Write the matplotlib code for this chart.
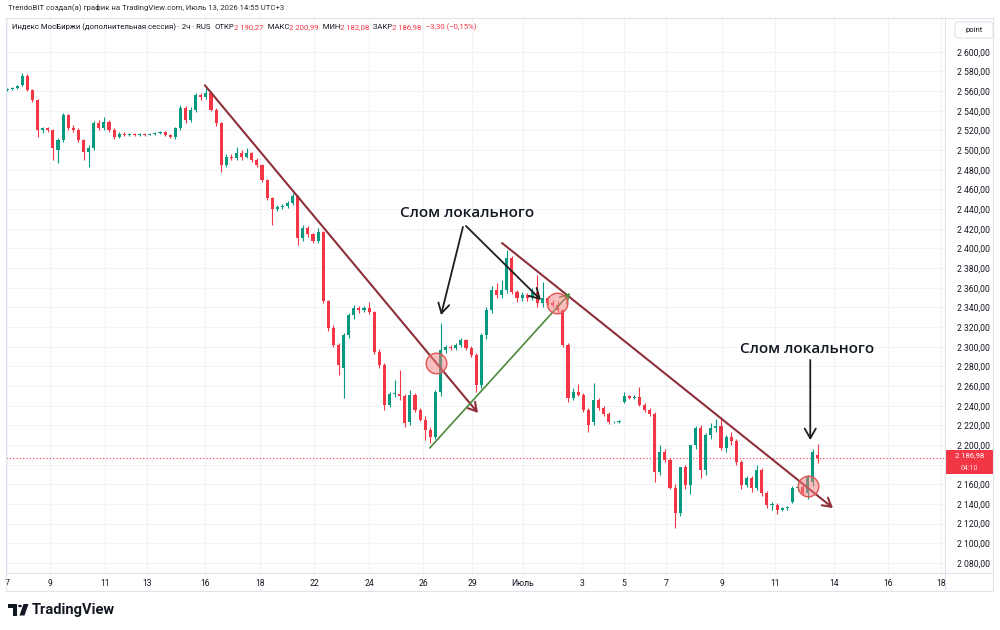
import matplotlib
matplotlib.use("Agg")
import matplotlib.pyplot as plt
from matplotlib.patches import Rectangle, FancyBboxPatch, Polygon, Circle
from matplotlib.lines import Line2D
from matplotlib.text import Annotation
import numpy as np

# ---------------- data (2h candles) ----------------
opens = [2561,2562,2563,2566,2575,2561,2551,2520,2522,2520,
         2500,2510,2536,2522,2520,2510,2498,2502,2528,2522,
         2529,2520,2513,2516,2515,2516,2515,2516,2515,2516,
         2517,2518,2515,2513,2522,2543,2531,2541,2556,2554,
         2558,2541,2528,2485,2493,2492,2497,2493,2497,2490,
         2485,2470,2451,2440,2442,2443,2446,2453,2411,2421,
         2415,2408,2417,2347,2319,2302,2278,2312,2332,2339,
         2337,2339,2335,2295,2281,2241,2252,2252,2250,2223,
         2251,2236,2225,2215,2208,2254,2297,2300,2299,2302,
         2307,2299,2292,2261,2312,2337,2358,2353,2358,2390,
         2356,2350,2353,2350,2356,2344,2350,2344,2342,2337,
         2302,2248,2254,2251,2236,2223,2246,2238,2232,2223,
         2223,2244,2250,2248,2249,2241,2236,2232,2173,2193,
         2185,2156,2131,2178,2159,2200,2217,2175,2210,2217,
         2219,2197,2208,2204,2183,2159,2166,2156,2175,2151,
         2139,2139,2134,2136,2142,2156,2157,2151,2162,2190.27]
highs = [2563,2564,2566,2578,2577,2562,2552,2524,2524,2521,
         2512,2538,2537,2526,2522,2511,2505,2530,2531,2534,
         2531,2522,2518,2518,2517,2517,2517,2517,2517,2518,
         2519,2519,2516,2524,2546,2545,2544,2558,2558,2563,
         2560,2543,2529,2496,2496,2503,2500,2502,2498,2492,
         2486,2471,2452,2444,2445,2448,2456,2454,2424,2423,
         2416,2421,2418,2348,2322,2304,2314,2334,2342,2341,
         2341,2345,2336,2298,2283,2254,2266,2276,2252,2256,
         2253,2238,2230,2218,2256,2324,2302,2302,2304,2309,
         2308,2301,2294,2314,2340,2362,2365,2368,2398,2392,
         2358,2356,2355,2360,2373,2366,2352,2348,2346,2338,
         2304,2258,2262,2253,2238,2263,2248,2240,2234,2224,
         2225,2254,2251,2251,2259,2243,2238,2234,2200,2196,
         2187,2160,2178,2180,2200,2219,2220,2212,2222,2226,
         2228,2210,2213,2206,2185,2168,2168,2180,2177,2153,
         2142,2141,2137,2138,2158,2159,2159,2170,2196,2200.99]
lows = [2560,2561,2562,2565,2560,2549,2513,2517,2518,2490,
        2487,2508,2520,2518,2508,2490,2483,2500,2520,2520,
        2518,2511,2512,2514,2514,2514,2514,2514,2515,2515,
        2516,2514,2512,2511,2520,2528,2529,2539,2551,2552,
        2540,2525,2478,2483,2490,2490,2490,2492,2488,2483,
        2468,2449,2424,2438,2440,2441,2444,2403,2408,2412,
        2405,2406,2344,2316,2300,2271,2248,2309,2328,2334,
        2335,2333,2293,2278,2236,2239,2249,2246,2218,2220,
        2234,2224,2205,2202,2206,2250,2294,2297,2297,2300,
        2297,2290,2254,2258,2308,2334,2350,2350,2355,2354,
        2345,2347,2346,2348,2340,2340,2342,2340,2335,2300,
        2244,2246,2250,2234,2213,2220,2236,2230,2221,2222,
        2222,2243,2247,2247,2240,2234,2230,2162,2170,2183,
        2155,2116,2128,2155,2150,2196,2166,2170,2206,2213,
        2195,2193,2200,2180,2155,2157,2152,2154,2148,2136,
        2134,2130,2133,2134,2141,2153,2149,2145,2158,2182.08]
closes = [2562,2563,2565,2575,2561,2551,2520,2522,2520,2502,
          2510,2536,2522,2520,2510,2498,2502,2528,2522,2529,
          2520,2513,2516,2515,2516,2515,2516,2515,2516,2517,
          2518,2515,2513,2522,2543,2531,2541,2556,2554,2558,
          2541,2528,2485,2493,2492,2497,2493,2497,2490,2485,
          2470,2451,2440,2442,2443,2446,2453,2411,2421,2415,
          2408,2417,2347,2319,2302,2281,2312,2332,2339,2337,
          2339,2335,2295,2281,2241,2252,2252,2250,2222,2251,
          2236,2225,2215,2208,2254,2297,2300,2299,2302,2307,
          2299,2292,2261,2312,2337,2358,2353,2358,2390,2356,
          2350,2353,2350,2356,2344,2350,2344,2342,2337,2302,
          2248,2254,2251,2236,2220,2246,2238,2232,2223,2223,
          2224,2250,2248,2249,2241,2236,2232,2173,2193,2185,
          2156,2131,2178,2159,2200,2217,2175,2210,2217,2219,
          2197,2208,2204,2183,2159,2166,2156,2175,2151,2139,
          2139,2134,2136,2136,2156,2157,2151,2168,2193,2186.98]

xtick_labels = ["7", "9", "11", "13", "16", "18", "22", "24", "26", "29",
                "Июль", "3", "5", "7", "9", "11", "14", "16", "18"]
xtick_pos = [0, 8.4, 19.2, 27.5, 38.8, 49.6, 60.2, 71.0, 81.6, 91.2,
             101.2, 112.7, 121.0, 129.2, 140.2, 150.6, 162.2, 172.7, 183.1]
price_ticks = list(range(2080, 2601, 20))

change_abs = -3.30
change_pct = -0.15
countdown = "04:10"
title_line = "TrendoBIT создал(а) график на TradingView.com, Июль 13, 2026 14:55 UTC+3"
symbol_line = "Индекс МосБиржи (дополнительная сессия) · 2ч · RUS"
annot_text = "Слом локального"

# annotation drawings (in chart coordinates: candle index, price)
trend_red_1 = [(38.8, 2566.0), (92.35, 2232.6)]
trend_red_2 = [(97.06, 2405.5), (161.96, 2135.9)]
trend_green = [(82.9, 2197.0), (110.4, 2354.6)]
black_arrows = [[(89.4, 2421.8), (85.1, 2332.2)],
                [(90.0, 2422.8), (104.7, 2347.5)],
                [(157.5, 2286.5), (157.5, 2205.0)]]
label_points = [(90.2, 2436.0), (156.9, 2297.7)]
circle_points = [(84.1, 2283.4), (107.8, 2344.5), (157.1, 2158.3)]

# ---------------- styling ----------------
UP = "#089981"
DOWN = "#f23645"
TXT = "#131722"
GRID = "#f0f3fa"
BORDER = "#e0e3eb"
W, H = 1000, 630

def fx(x):
    return x / W

def fy(y):
    return 1 - y / H

def fmt(v):
    return f"{v:,.2f}".replace(",", " ").replace(".", ",")

plt.rcParams['font.family'] = ['Roboto', 'DejaVu Sans']

fig = plt.figure(figsize=(10, 6.3), dpi=100)
fig.patch.set_facecolor("white")

ax = fig.add_axes([fx(6), fy(573), fx(945) - fx(6), fy(18) - fy(573)])
ax.set_facecolor("white")
ax.set_xlim(-0.196, 183.92)
ax.set_ylim(2069.8, 2634.4)

o = np.array(opens, float)
h = np.array(highs, float)
l = np.array(lows, float)
c = np.array(closes, float)
idx = np.arange(len(c))
cols = np.where(c >= o, UP, DOWN)

ax.vlines(idx, l, h, colors=cols, lw=0.8, zorder=2)
body_b = np.minimum(o, c)
body_h = np.maximum(np.abs(c - o), 0.9)
ax.bar(idx, body_h, bottom=body_b, width=0.6, color=cols, linewidth=0, zorder=3)

# grid & axes (tick label hidden where the last-price badge covers it)
ax.set_yticks(price_ticks)
ax.set_yticklabels(["" if abs(v - c[-1]) < 12 else fmt(v) for v in price_ticks])
ax.yaxis.tick_right()
ax.tick_params(axis="y", length=0, pad=8.5, labelsize=6.2, labelcolor=TXT)
ax.set_xticks(xtick_pos)
ax.set_xticklabels(xtick_labels)
ax.tick_params(axis="x", length=0, pad=4.5, labelsize=6.2, labelcolor=TXT)
ax.grid(True, color=GRID, lw=0.8)
ax.set_axisbelow(True)
for s in ax.spines.values():
    s.set_visible(False)

# last price dotted line
ax.axhline(c[-1], color=DOWN, lw=0.8, ls=(0, (1, 2)), zorder=1)

# trend lines with open arrowheads
def arrow(p0, p1, color, lw, hl=0.6, hw=0.35):
    ax.annotate("", xy=p1, xytext=p0, zorder=6,
                arrowprops=dict(arrowstyle=f"->,head_length={hl},head_width={hw}",
                                color=color, lw=lw, shrinkA=0, shrinkB=0))

arrow(trend_red_1[0], trend_red_1[1], "#8e2f3a", 1.5)
arrow(trend_red_2[0], trend_red_2[1], "#8e2f3a", 1.5)
arrow(trend_green[0], trend_green[1], "#4a8a3a", 1.2)
for a in black_arrows:
    arrow(a[0], a[1], "#1e1e1e", 1.3, hl=0.7, hw=0.4)

for (xx, yy) in label_points:
    ax.text(xx, yy, annot_text, ha="center", va="center", fontsize=11,
            fontweight="semibold", family=["Open Sans", "DejaVu Sans"],
            color=TXT, zorder=7)

cx = [p[0] for p in circle_points]
cy = [p[1] for p in circle_points]
ax.scatter(cx, cy, s=220, facecolor=(0.96, 0.5, 0.5, 0.5),
           edgecolor="#e05555", linewidth=1.0, zorder=8)

# ---------------- frame / chrome ----------------
def fline(x0, y0, x1, y1, color=BORDER, lw=0.8):
    fig.add_artist(Line2D([fx(x0), fx(x1)], [fy(y0), fy(y1)],
                          transform=fig.transFigure, color=color, lw=lw))

fline(6, 18, 993, 18)
fline(6, 591, 993, 591)
fline(6, 18, 6, 591)
fline(993, 18, 993, 591)
fline(6, 573, 993, 573)
fline(945, 18, 945, 591)

# header texts
fig.text(fx(8), fy(7.5), title_line, fontsize=5.6, color="#2a2e39",
         va="center", ha="left")

hdr_pieces = [(symbol_line + "  ", TXT), ("ОТКР", TXT), (fmt(opens[-1]), DOWN),
              ("  МАКС", TXT), (fmt(highs[-1]), DOWN),
              ("  МИН", TXT), (fmt(lows[-1]), DOWN),
              ("  ЗАКР", TXT), (fmt(closes[-1]), DOWN),
              (f"  {fmt(change_abs).replace('-', '−')} ({fmt(change_pct).replace('-', '−')}%)", DOWN)]
last = None
for txt, col in hdr_pieces:
    if last is None:
        last = fig.text(fx(12), fy(27), txt, fontsize=5.6, color=col,
                        va="center", ha="left")
    else:
        last = fig.add_artist(Annotation(txt, xy=(1, 0.5), xycoords=last,
                                         va="center", ha="left",
                                         fontsize=5.6, color=col))

# "point" box
fig.add_artist(FancyBboxPatch((fx(955), fy(38)), fx(38), 16 / H,
                              boxstyle="round,pad=0,rounding_size=0.004",
                              transform=fig.transFigure, facecolor="white",
                              edgecolor=BORDER, lw=0.8))
fig.text(fx(974), fy(30), "point", fontsize=5.5, color=TXT, ha="center", va="center")

# last price label
fig.add_artist(Rectangle((fx(946), fy(474)), fx(47), 24 / H,
                         transform=fig.transFigure, facecolor=DOWN,
                         edgecolor="none"))
fig.text(fx(969.5), fy(455.5), fmt(closes[-1]), fontsize=5.6, color="white",
         ha="center", va="center")
fig.text(fx(969.5), fy(468), countdown, fontsize=5.0, color="#ffe0e3",
         ha="center", va="center")

# TradingView logo
def fpoly(pts, color=TXT):
    fig.add_artist(Polygon([(fx(x), fy(y)) for x, y in pts], closed=True,
                           transform=fig.transFigure, facecolor=color,
                           edgecolor="none"))

fpoly([(8, 604), (17, 604), (17, 615.5), (13, 615.5), (13, 608), (8, 608)])
fig.add_artist(Circle((fx(20), fy(606)), 1.9 / W, transform=fig.transFigure,
                      facecolor=TXT, edgecolor="none"))
fpoly([(23.5, 604), (28.5, 604), (24.5, 615.5), (19.5, 615.5)])
fig.text(fx(32), fy(610), "TradingView", fontsize=10.5, fontweight="bold",
         color=TXT, ha="left", va="center")

fig.savefig("out.png", dpi=100, facecolor="white")
